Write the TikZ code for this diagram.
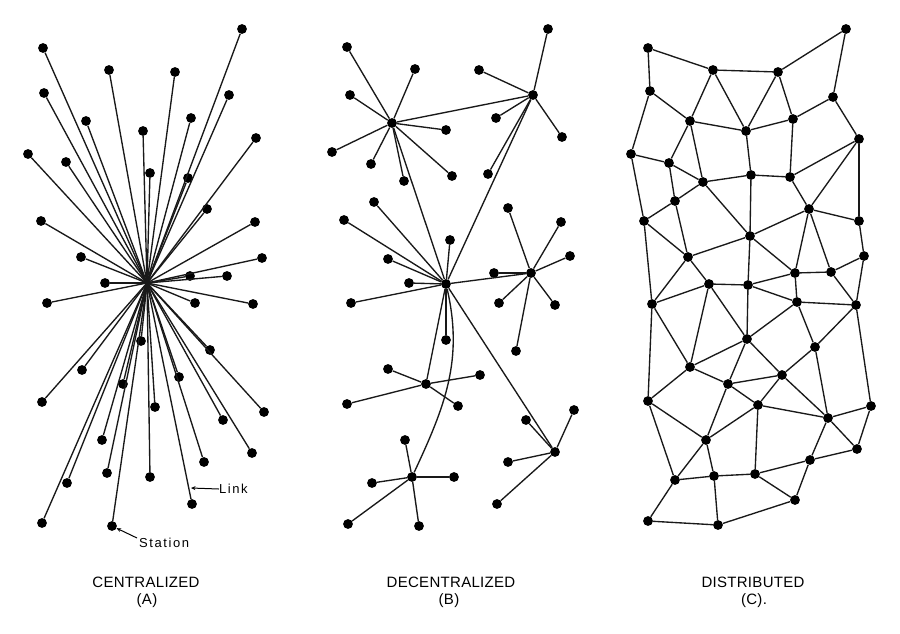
\documentclass[tikz,border=0pt]{standalone}
\usepackage{fontspec}
\setmainfont{Liberation Sans}
\newfontfamily\labfont[LetterSpace=2]{Liberation Sans}
\newfontfamily\smallfont[LetterSpace=12]{Liberation Sans}
\usetikzlibrary{arrows.meta}
\begin{document}
\begin{tikzpicture}[x=1pt,y=-1pt,
  stationdot/.style={circle,fill=black,inner sep=0pt,minimum size=9.8pt},
  linkline/.style={line width=1.35pt,black!90},
  captext/.style={font=\labfont\fontsize{15}{17}\selectfont,inner sep=0pt},
  smalltext/.style={font=\smallfont\fontsize{13}{15}\selectfont,inner sep=0pt,anchor=west},
  pointer/.style={line width=1pt,-{Stealth[length=4.5pt,width=4pt]}}]
\useasboundingbox (0,0) rectangle (900,633);
\fill[white] (0,0) rectangle (900,633);

% ---------- (A) centralized ----------
\coordinate (HA) at (147,283);
\foreach \n/\x/\y in {a1/242/29,a2/43/48,a3/109/70,a4/175/72,a5/44/93,a6/229/95,a7/86/121,a8/191/118,a9/143/131,a10/256/138,a11/28/154,a12/66/162,a13/150/173,a14/188/178,a15/207/209,a16/41/221,a17/255/222,a18/81/257,a19/262/258,a20/190/276,a21/227/276,a22/105/283,a23/47/303,a24/195/303,a25/253/304,a26/141/341,a27/210/350,a28/82/370,a29/123/384,a30/179/377,a31/42/402,a32/155/407,a33/264/412,a34/223/420,a35/102/440,a36/252/453,a37/204/462,a38/107/473,a39/150/477,a40/67/483,a41/192/504,a42/42/523,a43/112/526}
  {\node[stationdot] (\n) at (\x,\y) {};}
\foreach \i in {1,...,43} {\draw[linkline] (HA) -- (a\i);}

\node[smalltext] (linklab) at (219,489) {Link};
\coordinate (linktip) at (191,488);
\draw[pointer] (linklab.west) -- (linktip);
\node[smalltext] (stlab) at (139,543) {Station};
\coordinate (stfrom) at (137,538);
\draw[pointer] (stfrom) -- (a43);

% ---------- (B) decentralized ----------
\foreach \n/\x/\y in {B1/392/123,B2/533/95,B3/446/284,B4/531/273,B5/426/384,B6/412/477,B7/555/452}
  {\node[stationdot] (\n) at (\x,\y) {};}
\foreach \h/\n/\x/\y in {
  B1/b11/347/47,B1/b12/415/69,B1/b13/350/95,B1/b14/446/130,B1/b15/332/152,B1/b16/371/164,B1/b17/404/181,B1/b18/452/176,
  B2/b21/548/29,B2/b22/479/70,B2/b23/496/118,B2/b24/562/137,B2/b25/488/174,
  B3/b31/374/202,B3/b32/344/220,B3/b33/450/240,B3/b34/388/259,B3/b35/409/283,B3/b36/351/303,B3/b37/446/340,
  B4/b41/508/208,B4/b42/561/222,B4/b43/570/256,B4/b44/494/273,B4/b45/499/303,B4/b46/555/305,B4/b47/516/351,
  B5/b51/388/369,B5/b52/480/375,B5/b53/347/404,B5/b54/458/406,
  B6/b61/405/440,B6/b62/372/483,B6/b63/454/477,B6/b64/348/524,B6/b65/419/526,
  B7/b71/526/420,B7/b72/574/410,B7/b73/508/462,B7/b74/497/504}
  {\node[stationdot] (\n) at (\x,\y) {}; \draw[linkline] (\h) -- (\n);}
\draw[linkline] (B1) -- (B2);
\draw[linkline] (B1) -- (B3);
\draw[linkline] (B2) -- (B3);
\draw[linkline] (B3) -- (B4);
\draw[linkline] (B3) -- (B5);
\draw[linkline] (B3) -- (B7);
\draw[linkline] (B3) to[out=-77,in=65] (B6);

% ---------- (C) distributed ----------
\foreach \n/\x/\y in {1/648/48,2/713/70,3/778/72,4/846/29,5/650/91,6/833/97,7/690/121,8/746/131,9/793/119,10/859/139,11/631/154,12/669/163,13/703/182,14/751/175,15/790/177,16/675/201,17/809/209,18/644/221,19/859/221,20/750/236,21/688/257,22/864/256,23/795/273,24/831/272,25/709/284,26/748/285,27/652/304,28/797/302,29/856/305,30/747/339,31/815/347,32/690/367,33/782/375,34/728/384,35/648/401,36/758/405,37/871/406,38/828/418,39/706/440,40/857/449,41/810/460,42/675/480,43/714/476,44/755/474,45/795/500,46/648/521,47/718/525}
  {\node[stationdot] (c\n) at (\x,\y) {};}
\foreach \p/\q in {1/2,1/5,2/3,3/4,4/6,2/7,2/8,3/8,3/9,6/9,6/10,5/7,5/11,7/8,8/9,7/12,7/13,11/12,11/18,12/13,12/16,8/14,9/15,13/14,14/15,15/10,10/17,10/19,15/17,13/16,13/20,14/20,16/18,16/21,18/21,20/17,17/19,20/21,17/23,17/24,19/22,20/23,20/26,21/25,21/27,18/27,23/24,22/24,22/29,25/26,25/27,26/23,26/28,23/28,24/29,28/29,26/30,25/30,25/32,27/32,27/35,28/30,28/31,29/31,29/37,30/32,30/34,30/33,31/33,31/38,32/34,32/35,33/34,33/36,33/38,34/36,34/39,35/39,35/42,36/39,36/38,36/44,37/38,37/40,38/40,38/41,39/42,39/43,40/41,41/44,41/45,42/43,42/46,43/44,43/47,44/45,46/47,45/47}
  {\draw[linkline] (c\p) -- (c\q);}

% ---------- captions ----------
\node[captext] (capA) at (146,582) {CENTRALIZED};
\node[captext] (capAb) at (147,601) {(A)};
\node[captext] (capB) at (451,582) {DECENTRALIZED};
\node[captext] (capBb) at (449,601) {(B)};
\node[captext] (capC) at (753,582) {DISTRIBUTED};
\node[captext] (capCb) at (754,601) {(C).};
\end{tikzpicture}
\end{document}
